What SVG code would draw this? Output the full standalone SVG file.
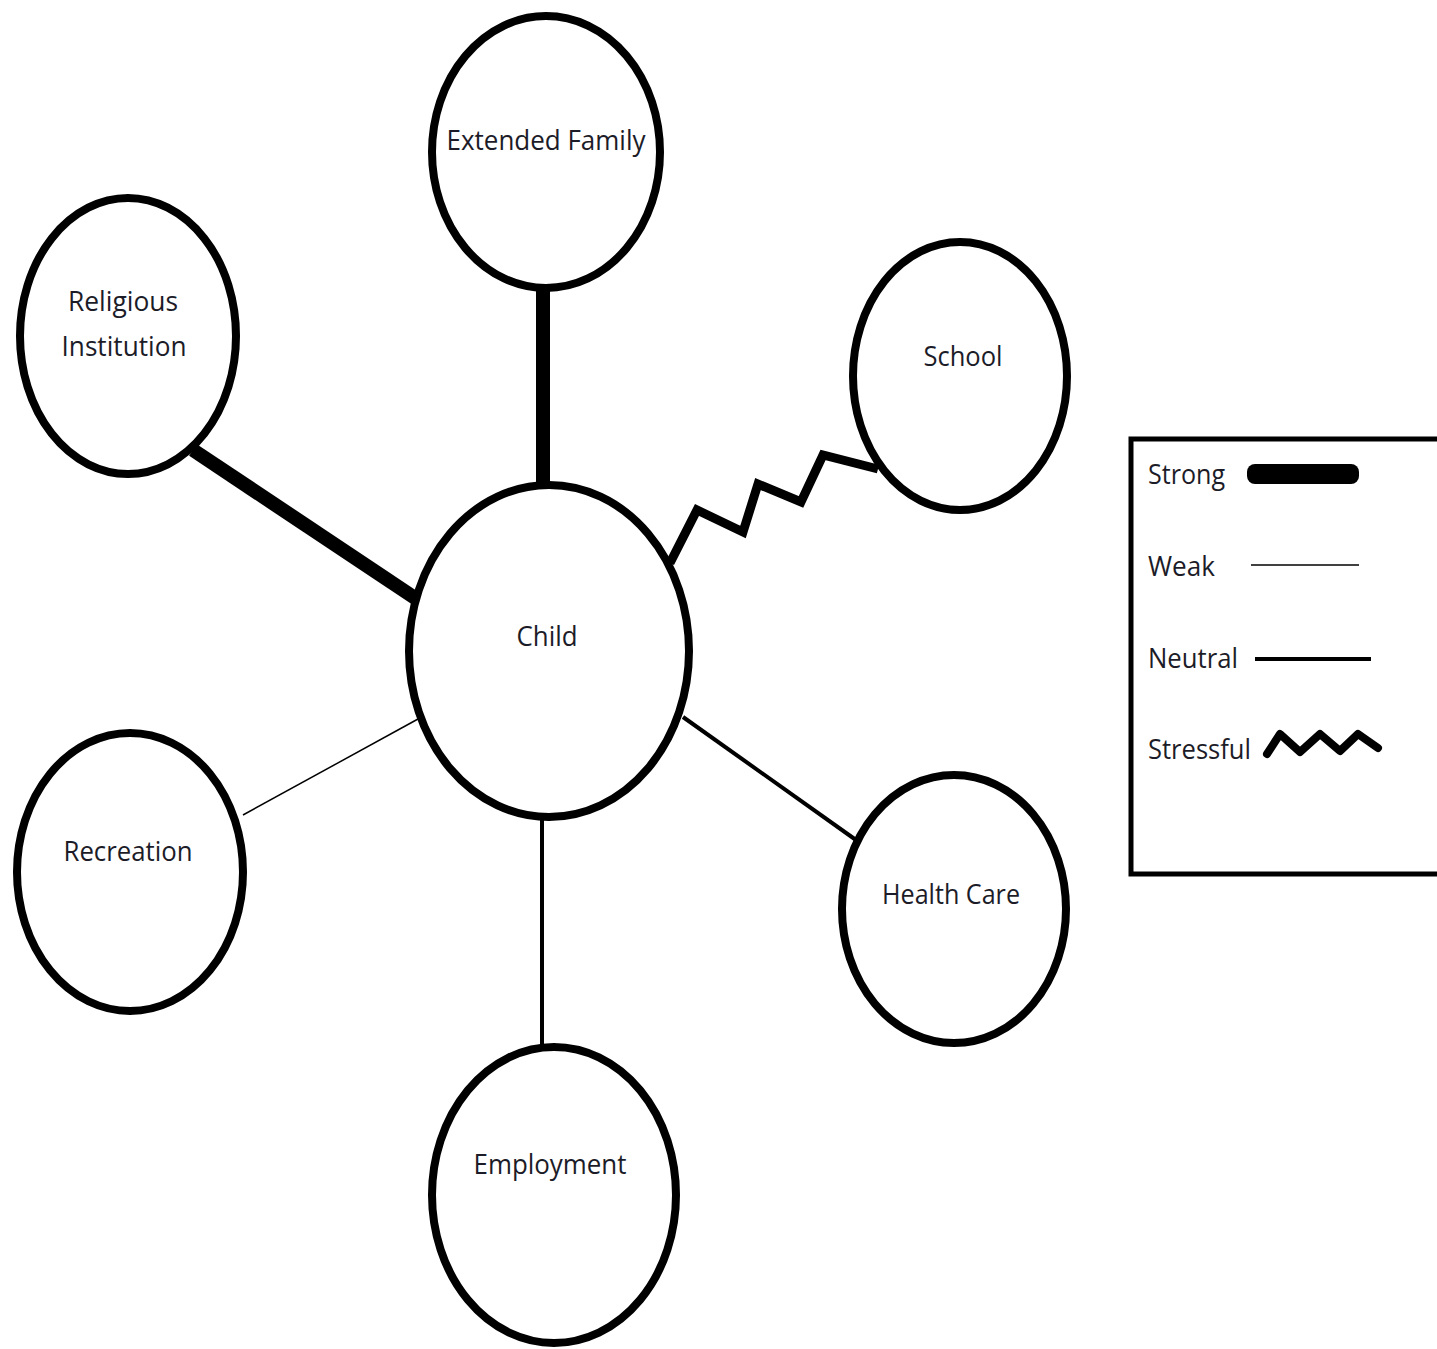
<svg xmlns="http://www.w3.org/2000/svg" width="1437" height="1349" viewBox="0 0 1437 1349">
<style>
.node{fill:#fff;stroke:#000;stroke-width:8}
.lbl{font-family:"Open Sans","Noto Sans","Liberation Sans",sans-serif;font-size:27px;fill:#1c1c28;text-anchor:middle}
.lg{font-family:"Open Sans","Noto Sans","Liberation Sans",sans-serif;font-size:27px;fill:#1c1c28}
.strong{stroke:#000;stroke-width:14;fill:none}
.weak{stroke:#000;stroke-width:1.5;fill:none}
.neutral{stroke:#000;stroke-width:4;fill:none}
.stress{stroke:#000;stroke-width:9;fill:none;stroke-linejoin:miter}
</style>
<rect width="1437" height="1349" fill="#fff"/>
<g id="connectors">
<line class="strong" x1="543" y1="288" x2="543" y2="488"/>
<line class="strong" x1="193" y1="450" x2="418" y2="600"/>
<polyline class="stress" points="670,563 697,510 743,532 758,484 801,502 823,455 878,469"/>
<line class="weak" x1="243" y1="815" x2="418" y2="719"/>
<line class="neutral" x1="683" y1="717" x2="856" y2="840"/>
<line class="neutral" x1="542" y1="818" x2="542" y2="1047"/>
</g>
<g id="extended-family"><ellipse class="node" cx="546" cy="152" rx="114" ry="136"/><text class="lbl" x="546" y="150" textLength="199" lengthAdjust="spacingAndGlyphs">Extended Family</text></g>
<g id="religious-institution"><ellipse class="node" cx="128" cy="336" rx="108" ry="138"/><text class="lbl" x="123" y="311" textLength="110" lengthAdjust="spacingAndGlyphs">Religious</text><text class="lbl" x="124" y="356" textLength="125" lengthAdjust="spacingAndGlyphs">Institution</text></g>
<g id="school"><ellipse class="node" cx="960" cy="376" rx="107" ry="134"/><text class="lbl" x="963" y="366" textLength="79" lengthAdjust="spacingAndGlyphs">School</text></g>
<g id="child"><ellipse class="node" cx="549" cy="651" rx="140" ry="166"/><text class="lbl" x="547" y="646" textLength="61" lengthAdjust="spacingAndGlyphs">Child</text></g>
<g id="recreation"><ellipse class="node" cx="130" cy="872" rx="113" ry="139"/><text class="lbl" x="128" y="861" textLength="129" lengthAdjust="spacingAndGlyphs">Recreation</text></g>
<g id="health-care"><ellipse class="node" cx="954" cy="909" rx="112" ry="134"/><text class="lbl" x="951" y="904" textLength="138" lengthAdjust="spacingAndGlyphs">Health Care</text></g>
<g id="employment"><ellipse class="node" cx="554" cy="1195" rx="122" ry="148"/><text class="lbl" x="550" y="1174" textLength="153" lengthAdjust="spacingAndGlyphs">Employment</text></g>
<g id="legend">
<rect x="1131" y="439" width="320" height="435" fill="#fff" stroke="#000" stroke-width="5"/>
<text class="lg" x="1148" y="484" textLength="77" lengthAdjust="spacingAndGlyphs">Strong</text>
<rect x="1247" y="464" width="112" height="20" rx="8" fill="#000"/>
<text class="lg" x="1148" y="576" textLength="67" lengthAdjust="spacingAndGlyphs">Weak</text>
<line class="weak" x1="1251" y1="565" x2="1359" y2="565"/>
<text class="lg" x="1148" y="668" textLength="90" lengthAdjust="spacingAndGlyphs">Neutral</text>
<line class="neutral" x1="1255" y1="659" x2="1371" y2="659"/>
<text class="lg" x="1148" y="759" textLength="103" lengthAdjust="spacingAndGlyphs">Stressful</text>
<polyline points="1267,754 1280,734 1300,752 1320,734 1340,751 1358,734 1378,748" fill="none" stroke="#000" stroke-width="8" stroke-linecap="round" stroke-linejoin="round"/>
</g>
</svg>
